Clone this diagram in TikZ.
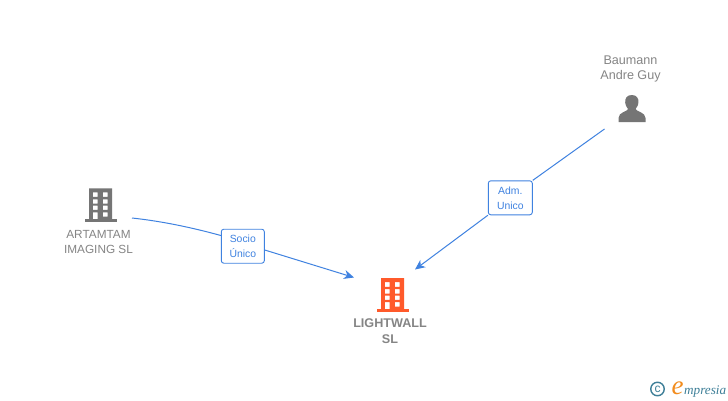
\documentclass[tikz,border=0pt]{standalone}
\usepackage{fontspec}
\setmainfont{Liberation Sans}
\newfontfamily\logofont{Liberation Serif}
\usetikzlibrary{arrows.meta}
\definecolor{linkblue}{HTML}{3F82E0}
\definecolor{labelgray}{HTML}{858585}
\definecolor{icongray}{HTML}{757575}
\definecolor{bldorange}{HTML}{FF5A2B}
\definecolor{logoteal}{HTML}{3E7F98}
\definecolor{logoorange}{HTML}{F28C1E}
\tikzset{
  x=1pt,y=-1pt,
  entity/.style={text=labelgray,font=\fontsize{11.8}{15}\selectfont,align=center,inner sep=0pt},
  entitylarge/.style={entity,font=\fontsize{12.6}{15}\selectfont},
  entitybold/.style={entity,font=\fontsize{12.6}{16}\selectfont\bfseries},
  rolebox/.style={draw=linkblue,fill=white,rounded corners=2.5pt,line width=0.9pt,text=linkblue,
    font=\fontsize{10.4}{15}\selectfont,align=center,inner sep=0pt},
  link/.style={draw=linkblue,line width=1pt},
  arrowlink/.style={link,-{Stealth[length=10pt,width=9pt,inset=3pt]}},
  pics/building/.style={code={
    \fill[#1,even odd rule] (-11.5,0) rectangle (11.5,31)
      (-7.7,4) rectangle (-2.9,8.6) (2.3,4) rectangle (7.1,8.6)
      (-7.7,11) rectangle (-2.9,15.3) (2.3,11) rectangle (7.1,15.3)
      (-7.7,17.4) rectangle (-2.9,21.6) (2.3,17.4) rectangle (7.1,21.6)
      (-7.7,24) rectangle (-2.9,31) (2.3,24) rectangle (7.1,28.3);
    \fill[#1] (-16,31) rectangle (16,33.7);
  }},
  pics/personicon/.style={code={
    \fill[#1] (0,0) .. controls (-5,0) and (-7,3.5) .. (-6.6,7.5)
      .. controls (-6.3,11) and (-4.6,12.5) .. (-3.8,14)
      .. controls (-4,16.5) and (-13.3,17) .. (-13.3,23)
      -- (-13.3,27) -- (13.7,27) -- (13.7,23)
      .. controls (13.7,17) and (4,16.5) .. (3.8,14)
      .. controls (4.6,12.5) and (6.3,11) .. (6.6,7.5)
      .. controls (7,3.5) and (5,0) .. (0,0) -- cycle;
  }},
}
\begin{document}
\begin{tikzpicture}
\useasboundingbox[fill=white] (0,0) rectangle (728,400);

\pic at (100.6,188.3) {building={icongray}};
\pic at (392.5,278.2) {building={bldorange}};
\pic at (631.8,95) {personicon={icongray}};

\node[entity] (artamtam) at (98.5,241.5) {ARTAMTAM\\IMAGING SL};
\node[entitybold] (lightwall) at (390,331) {LIGHTWALL\\SL};
\node[entitylarge] (baumann) at (630.5,68.5) {Baumann\\Andre Guy};

\coordinate (artamtamout) at (132,218);
\coordinate (lightwallinA) at (354,277.5);
\coordinate (baumannout) at (604.5,129);
\coordinate (lightwallinB) at (415,269.5);

\node[rolebox,minimum width=43pt,minimum height=34pt] (socio) at (242.8,246.2) {Socio\\Único};
\node[rolebox,minimum width=44pt,minimum height=34pt] (adm) at (510.3,197.8) {Adm.\\Unico};

\draw[link] (artamtamout) .. controls (160,221) and (190,227) .. (socio.west |- 0,235.5);
\draw[arrowlink] (socio.east |- 0,250) -- (lightwallinA);
\draw[link] (baumannout) -- (adm.north east);
\draw[arrowlink] (adm.south west) -- (lightwallinB);

\node[circle,draw=logoteal,line width=1.4pt,minimum size=13.5pt,inner sep=0pt,text=logoteal,
  font=\fontsize{12}{12}\selectfont] (copyr) at (657.5,389) {c};
\node[inner sep=0pt,anchor=base,text=logoorange,font=\fontsize{27}{27}\selectfont\logofont\itshape] (logoe) at (677.5,394.5) {e};
\node[inner sep=0pt,anchor=base west,text=logoteal,font=\fontsize{13.2}{13.2}\selectfont\logofont\itshape] (logotext) at (684,394) {mpresia};
\end{tikzpicture}
\end{document}
